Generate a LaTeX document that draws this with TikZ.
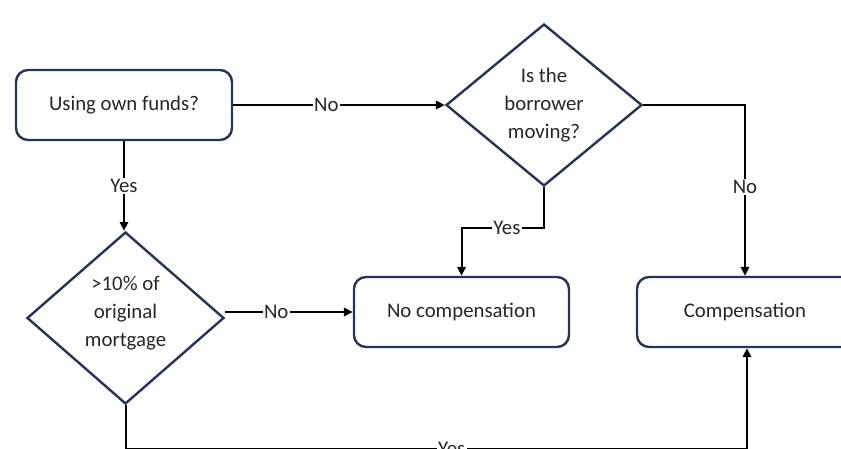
\documentclass[tikz,border=0pt]{standalone}
\usepackage{fontspec}
\setmainfont{Carlito}
\usetikzlibrary{arrows.meta,shapes.geometric}
\definecolor{navy}{HTML}{22365A}
\definecolor{txt}{HTML}{262626}
\begin{document}
\begin{tikzpicture}[x=1pt,y=-1pt,
  every node/.style={text=txt,font=\fontsize{20.8}{28}\selectfont},
  boxnode/.style={draw=navy,line width=2.4pt,rounded corners=12pt,minimum width=216pt,minimum height=70pt,inner sep=0pt},
  decision/.style={draw=navy,line width=2.4pt,diamond,inner sep=0pt,aspect=1},
  conn/.style={draw=black,line width=2pt,-{Triangle[length=9pt,width=8.5pt]}},
  plainconn/.style={draw=black,line width=2pt},
  lbl/.style={fill=white,inner sep=1.5pt}]
\clip (0,0) rectangle (841,449);
\useasboundingbox (0,0) rectangle (841,449);
\node[boxnode] (own) at (124,105) {Using own funds?};
\node[decision,minimum width=196pt,minimum height=162pt] (d1) at (544,105) {};
\node[align=center] (d1t) at (544,105) {Is the\\borrower\\moving?};
\node[decision,minimum width=197pt,minimum height=172pt] (d2) at (125.5,318) {};
\node[align=center] (d2t) at (125.5,313) {>10\% of\\original\\mortgage};
\node[boxnode,minimum width=215pt] (nc) at (461.5,312) {No compensation};
\node[boxnode] (comp) at (745,312) {Compensation};
\coordinate (b1) at (544,228);
\coordinate (b2) at (745,105);
\coordinate (b3) at (125.5,449.3);
\coordinate (b4) at (747,449.3);
\draw[conn] (own.east) -- node[lbl,pos=0.44]{No} (d1.west);
\draw[conn] (own.south) -- node[lbl,pos=0.5]{Yes} (own.south |- d2.north);
\draw[conn] (d1.south) -- (b1) -- node[lbl,pos=0.45]{Yes} (b1 -| nc.north) -- (nc.north);
\draw[conn] (d1.east) -- (b2) -- node[lbl,pos=0.48]{No} (comp.north);
\draw[conn] (d2.east |- nc.west) -- node[lbl,pos=0.4]{No} (nc.west);
\draw[plainconn] (d2.south) -- (b3) -- node[lbl,pos=0.525]{Yes} (b4);
\draw[conn] (b4) -- (b4 |- comp.south);
\end{tikzpicture}
\end{document}
